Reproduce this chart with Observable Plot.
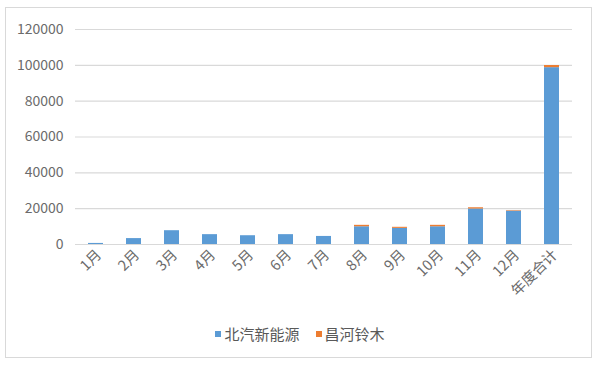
<!DOCTYPE html>
<html>
<head>
<meta charset="utf-8">
<script src="https://cdn.jsdelivr.net/npm/d3@7"></script>
<script src="https://cdn.jsdelivr.net/npm/@observablehq/plot@0.6"></script>
<style>
  html, body { margin: 0; padding: 0; background: #fff; }
  #wrap { position: relative; width: 600px; height: 369px; overflow: hidden; font-family: "Noto Sans CJK SC", sans-serif; }
  #frame { position: absolute; left: 5px; top: 7px; width: 587px; height: 351px; border: 1px solid #D9D9D9; box-sizing: border-box; }
  #chart { position: absolute; left: 0; top: 0; }
  #legend { position: absolute; left: 0; width: 600px; top: 323px; display: flex; justify-content: center; align-items: center; font-size: 15px; color: #595959; }
  .item { display: flex; align-items: center; margin: 0 8px; }
  .sw { width: 6px; height: 6px; margin-right: 3px; display: inline-block; }
</style>
</head>
<body>
<div id="wrap">
  <div id="frame"></div>
  <div id="chart"></div>
  <div id="legend"></div>
</div>
<script>
const categories = ["1月","2月","3月","4月","5月","6月","7月","8月","9月","10月","11月","12月","年度合计"];
const seriesNames = ["北汽新能源", "昌河铃木"];
const baicValues = [600, 3300, 7700, 5500, 4900, 5500, 4500, 9900, 9000, 9900, 19800, 18600, 98700];
const changheValues = [0, 0, 0, 0, 0, 0, 0, 800, 600, 800, 700, 300, 1200];
const seriesColors = ["#5B9BD5", "#ED7D31"];
const yTicks = [0, 20000, 40000, 60000, 80000, 100000, 120000];

const data = [];
categories.forEach((c, i) => {
  data.push({category: c, series: seriesNames[0], value: baicValues[i]});
  data.push({category: c, series: seriesNames[1], value: changheValues[i]});
});

const chart = Plot.plot({
  width: 600,
  height: 320,
  marginLeft: 75,
  marginRight: 28,
  marginTop: 29,
  marginBottom: 76,
  style: { fontFamily: "'Noto Sans CJK SC', sans-serif", background: "transparent" },
  x: { domain: categories, paddingInner: 0.6, paddingOuter: 0.3, label: null },
  y: { domain: [0, 120000], label: null },
  color: { domain: seriesNames, range: seriesColors },
  marks: [
    Plot.gridY(yTicks, { stroke: "#D9D9D9", strokeOpacity: 1, strokeWidth: 1.2 }),
    Plot.barY(data, { x: "category", y: "value", fill: "series", order: seriesNames }),
    Plot.axisY(yTicks, { tickSize: 0, tickPadding: 12, fontSize: 14, fill: "#6b6b6b", tickFormat: d => String(d) }),
    Plot.axisX({ tickSize: 0, tickRotate: -45, tickPadding: 8, fontSize: 14.5, fill: "#6b6b6b", dx: 3 })
  ]
});
document.getElementById("chart").appendChild(chart);

const legend = document.getElementById("legend");
seriesNames.forEach((name, i) => {
  const item = document.createElement("span");
  item.className = "item";
  const sw = document.createElement("span");
  sw.className = "sw";
  sw.style.background = seriesColors[i];
  item.appendChild(sw);
  item.appendChild(document.createTextNode(name));
  legend.appendChild(item);
});
</script>
</body>
</html>
